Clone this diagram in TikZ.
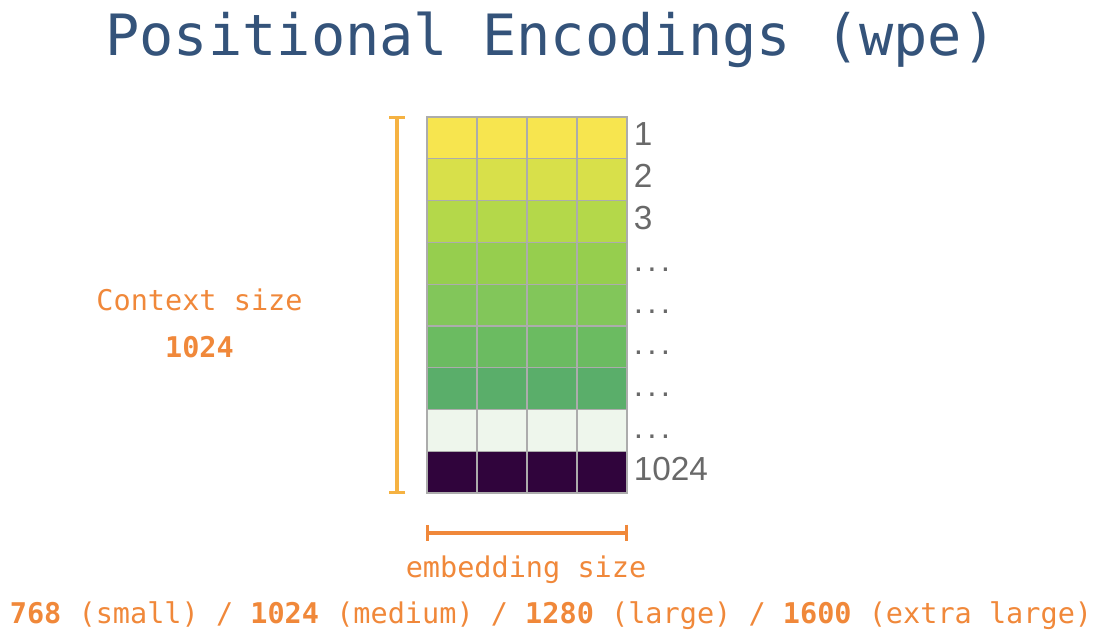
\documentclass[tikz,border=0pt]{standalone}
\usepackage{fontspec}
\setmonofont{DejaVu Sans Mono}
\newfontfamily\rowfont{Liberation Sans}
\usepackage{tikz}
\usetikzlibrary{
  arrows.meta,
  positioning,
  calc
}
\definecolor{TitleBlue} {RGB}{52,83,122}
\definecolor{SizeOrange}{RGB}{240,136,58}
\definecolor{BarGold}   {RGB}{245,178,66}
\definecolor{GridGray}  {RGB}{172,172,172}
\definecolor{LabelGray} {RGB}{105,105,105}
\definecolor{RowA}{RGB}{247,229,79}
\definecolor{RowB}{RGB}{216,224,74}
\definecolor{RowC}{RGB}{180,216,74}
\definecolor{RowD}{RGB}{150,206,78}
\definecolor{RowE}{RGB}{130,198,90}
\definecolor{RowF}{RGB}{107,187,97}
\definecolor{RowG}{RGB}{90,174,106}
\definecolor{RowH}{RGB}{238,246,236}
\definecolor{RowI}{RGB}{48,4,60}
\newcommand{\rowdots}{.\kern3.2pt.\kern3.2pt.}

\begin{document}
\begin{tikzpicture}[
  x=0.75pt, y=-0.75pt,
  cell/.style={rectangle, draw=GridGray, line width=0.9pt, inner sep=0pt,
               minimum width=37.5pt, minimum height=31.33pt},
  rowlbl/.style={font=\rowfont\fontsize{25}{25}\selectfont, text=LabelGray,
                 inner sep=0pt, anchor=base west},
  szlbl/.style={font=\ttfamily\fontsize{21.4}{21.4}\selectfont, text=SizeOrange,
                inner sep=0pt, anchor=base},
  bar/.style={line width=3pt, {Bar[width=12pt,line width=2.2pt]}-{Bar[width=12pt,line width=2.2pt]}}
]
\useasboundingbox (0,0) rectangle (1102,632);

\node[font=\ttfamily\fontsize{42.7}{42.7}\selectfont, text=TitleBlue,
      inner sep=0pt, anchor=base] (title) at (551,55) {Positional Encodings (wpe)};

% the wpe matrix, one row per position
\foreach \c [count=\i] in {RowA,RowB,RowC,RowD,RowE,RowF,RowG,RowH,RowI}
  \foreach \j in {1,...,4}
    \node[cell, fill=\c] (c\i-\j) at ({427+(\j-0.5)*50}, {117+(\i-0.5)*41.78}) {};

\foreach \t [count=\i] in {1,2,3,\rowdots,\rowdots,\rowdots,\rowdots,\rowdots,1024}
  \node[rowlbl] (p\i) at ($(c\i-4.east)+(6,8)$) {\t};

% context size bracket
\coordinate (ctxtop) at ($(c1-1.north west)+(-29,0)$);
\coordinate (ctxbot) at ($(c9-1.south west)+(-29,0)$);
\draw[bar, BarGold] (ctxtop) -- (ctxbot);

\node[szlbl] (ctx)    at (199.5,310) {Context size};
\node[szlbl] (ctxnum) at (199.5,357) {\textbf{1024}};

% embedding size bracket
\coordinate (embl) at ($(c9-1.south west)+(0,39)$);
\coordinate (embr) at ($(c9-4.south east)+(0,39)$);
\draw[bar, SizeOrange] (embl) -- (embr);

\node[szlbl] (emb)   at (526,577) {embedding size};
\node[szlbl] (sizes) at (551,623)
      {\textbf{768} (small) / \textbf{1024} (medium) / \textbf{1280} (large) / \textbf{1600} (extra large)};

\end{tikzpicture}
\end{document}
